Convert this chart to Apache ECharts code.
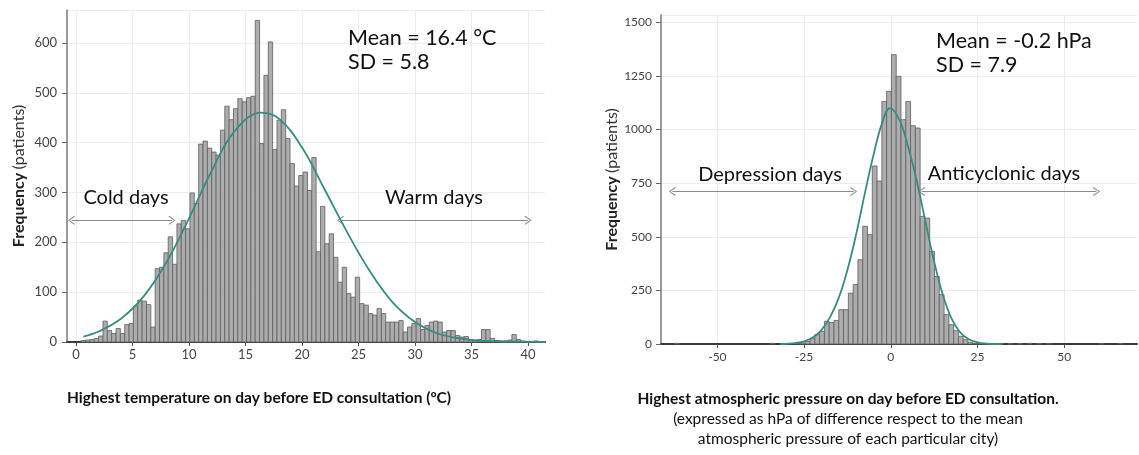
<!DOCTYPE html>
<html><head><meta charset="utf-8">
<script src="https://cdn.jsdelivr.net/npm/echarts@6/dist/echarts.min.js"></script>
<style>html,body{margin:0;padding:0;background:#fff}#c{width:1139px;height:455px}</style>
</head><body><div id="c"></div>
<script>
// ---------- Temperature histogram (°C) ----------
const tempFirstCenter = 0.65;
const tempBinWidth = 0.385;
const tempCounts = [3,4,5,7,12,42,23,17,27,17,35,37,72,84,82,75,30,147,150,179,211,156,237,244,227,299,278,
  397,403,389,381,375,425,473,446,468,488,482,490,493,645,398,535,602,386,445,466,408,358,313,334,341,304,370,
  181,272,197,217,170,120,150,97,90,130,77,74,57,54,67,57,40,40,40,43,20,30,37,47,
  25,33,40,42,40,20,23,23,13,10,11,3,3,5,25,25,7,3,2,2,4,15,5,2,1,1,2,1];
const tempCurveX = [0.65,2,4,6,8,10,12,14,16.4,18,20,22,24,26,28,30,32,34,36,38,41.5];
const tempCurveY = [11,21,47,92,160,248,343,422,460,447,390,306,220,142,80,40,17,7,2,1,0];
const tempTicks = [0,5,10,15,20,25,30,35,40];

// ---------- Pressure histogram (hPa difference) ----------
const pressFirstCenter = -26.72;   // centre of first main bin
const pressBinWidth = 1.38;
const pressCounts = [2,5,12,25,43,59,106,100,110,160,160,237,277,393,549,510,830,760,1131,1178,
  1349,1248,1046,1131,1018,1007,595,587,432,315,230,137,90,62,36,20,8,3,2,1,2];
const pressTailCenters = [-61.7,-34.1,29.0,31.8,34.5,37.3,40.0,42.8,45.6,60.7,66.2];
const pressTailCounts  = [3,3,2,3,2,2,3,2,1,1,2];
const pressCurveX = [-32,-30,-27.5,-25,-22.5,-20,-17.5,-15,-12.5,-10,-7.5,-5,-2.5,-0.2,2.5,5,7.5,10,12.5,15,17.5,20,22.5,25,27.5,30,32];
const pressCurveY = [0,1,4,12,30,65,125,215,345,510,700,880,1030,1100,1045,920,760,570,385,230,120,55,22,8,2,0,0];
const pressTicks = [-50,-25,0,25,50];

// build histogram rows [x0, x1, count]
function binsFrom(firstCenter, width, counts) {
  return counts.map((c, i) => {
    const ctr = firstCenter + i * width;
    return [ctr - width / 2, ctr + width / 2, c];
  });
}
const tempBins = binsFrom(tempFirstCenter, tempBinWidth, tempCounts);
const pressBins = binsFrom(pressFirstCenter, pressBinWidth, pressCounts)
  .concat(pressTailCenters.map((c, i) => [c - pressBinWidth / 2, c + pressBinWidth / 2, pressTailCounts[i]]));
const tempCurve = tempCurveX.map((x, i) => [x, tempCurveY[i]]);
const pressCurve = pressCurveX.map((x, i) => [x, pressCurveY[i]]);

function histItem(params, api) {
  const p0 = api.coord([api.value(0), api.value(2)]);
  const p1 = api.coord([api.value(1), 0]);
  return {
    type: 'rect',
    shape: { x: p0[0], y: p0[1], width: p1[0] - p0[0], height: p1[1] - p0[1] },
    style: { fill: '#adadad', stroke: '#5e5e5e', lineWidth: 0.8 }
  };
}

const FONT = 'Lato, "Open Sans", sans-serif';
const chevron = 'path://M5,0 L10,9 L9,10 L5,2.2 L1,10 L0,9 Z';
const curveColor = '#3a8b80';

function makeX(gi, min, max, ticks, labelSize, margin) {
  return {
    type: 'value', gridIndex: gi, min: min, max: max,
    axisLine: { show: true, onZero: false, lineStyle: { color: '#3a3a3a', width: 2 } },
    axisTick: { show: true, customValues: ticks, length: 4, lineStyle: { color: '#555' } },
    axisLabel: { customValues: ticks, color: '#444', fontSize: labelSize, fontFamily: FONT, margin: margin },
    splitLine: { show: true, lineStyle: { color: '#ececec', width: 1 } }
  };
}
function makeY(gi, max, interval, labelSize, margin, nameGap) {
  return {
    type: 'value', gridIndex: gi, min: 0, max: max, interval: interval,
    name: '{b|Frequency} {n|(patients)}', nameLocation: 'middle', nameGap: nameGap, nameRotate: 90,
    nameTextStyle: { rich: {
      b: { fontWeight: 'bold', fontSize: 16, color: '#222', fontFamily: FONT },
      n: { fontSize: 16, color: '#333', fontFamily: FONT } } },
    axisLine: { show: true, onZero: false, lineStyle: { color: '#7a7a7a', width: 1.5 } },
    axisTick: { show: true, length: 5, lineStyle: { color: '#666' } },
    axisLabel: { color: '#444', fontSize: labelSize, fontFamily: FONT, margin: margin,
      showMaxLabel: false, formatter: v => String(v) },
    splitLine: { show: true, lineStyle: { color: '#ececec', width: 1 } }
  };
}
function txt(x, y, text, size, align, weight, color) {
  return { type: 'text', x: x, y: y, silent: true, z: 100,
    style: { text: text, fill: color || '#111', align: align, verticalAlign: 'middle',
      font: (weight || 'normal') + ' ' + size + 'px ' + FONT } };
}

const chart = echarts.init(document.getElementById('c'), null, { renderer: 'canvas' });
chart.setOption({
  animation: false,
  backgroundColor: '#ffffff',
  grid: [
    { left: 67, top: 10, width: 478, height: 332 },
    { left: 661, top: 15, width: 476, height: 329 }
  ],
  xAxis: [
    makeX(0, -0.8, 41.5, tempTicks, 13, 6),
    makeX(1, -66.25, 71.0, pressTicks, 12, 7)
  ],
  yAxis: [
    makeY(0, 666, 100, 13, 10, 40),
    makeY(1, 1534, 250, 12, 9, 40)
  ],
  series: [
    { type: 'custom', xAxisIndex: 0, yAxisIndex: 0, renderItem: histItem, data: tempBins,
      encode: { x: [0, 1], y: 2 }, silent: true },
    { type: 'line', xAxisIndex: 0, yAxisIndex: 0, data: tempCurve, showSymbol: false, smooth: 0.4,
      silent: true, lineStyle: { color: curveColor, width: 1.8 }, z: 5,
      markLine: { silent: true, symbol: [chevron, chevron], symbolSize: [9, 7],
        label: { show: false }, lineStyle: { color: '#8c8c8c', width: 1, type: 'solid' },
        data: [ [ { coord: [-0.4, 244] }, { coord: [8.5, 244] } ],
                [ { coord: [23.4, 244] }, { coord: [40.0, 244] } ] ] } },
    { type: 'custom', xAxisIndex: 1, yAxisIndex: 1, renderItem: histItem, data: pressBins,
      encode: { x: [0, 1], y: 2 }, silent: true },
    { type: 'line', xAxisIndex: 1, yAxisIndex: 1, data: pressCurve, showSymbol: false, smooth: 0.4,
      silent: true, lineStyle: { color: curveColor, width: 1.8 }, z: 5,
      markLine: { silent: true, symbol: [chevron, chevron], symbolSize: [9, 7],
        label: { show: false }, lineStyle: { color: '#8c8c8c', width: 1, type: 'solid' },
        data: [ [ { coord: [-63.0, 711] }, { coord: [-10.7, 711] } ],
                [ { coord: [8.9, 711] }, { coord: [59.3, 711] } ] ] } }
  ],
  graphic: [
    txt(348, 38, 'Mean = 16.4 °C', 21.5, 'left'),
    txt(348, 62, 'SD = 5.8', 21.5, 'left'),
    txt(126, 198, 'Cold days', 20, 'center'),
    txt(434, 198, 'Warm days', 20, 'center'),
    txt(936, 41, 'Mean = -0.2 hPa', 21.5, 'left'),
    txt(936, 65, 'SD = 7.9', 21.5, 'left'),
    txt(770, 175, 'Depression days', 20, 'center'),
    txt(1004, 174, 'Anticyclonic days', 20, 'center'),
    txt(259, 398, 'Highest temperature on day before ED consultation (ºC)', 15.5, 'center', 'bold'),
    txt(848, 399, 'Highest atmospheric pressure on day before ED consultation.', 15.5, 'center', 'bold'),
    txt(848, 419, '(expressed as hPa of difference respect to the mean', 15.5, 'center'),
    txt(848, 439, 'atmospheric pressure of each particular city)', 15.5, 'center')
  ]
});
</script>
</body></html>
